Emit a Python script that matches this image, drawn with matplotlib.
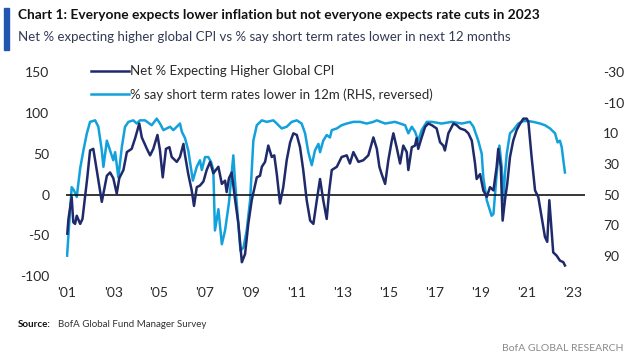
import matplotlib.pyplot as plt
from matplotlib.patches import Rectangle

plt.rcParams['axes.unicode_minus'] = False

# Net % expecting higher global CPI (LHS)
cpi_year = [2001.01, 2001.06, 2001.20, 2001.27, 2001.35, 2001.42, 2001.57, 2001.67, 2001.78, 2001.88,
            2002.00, 2002.14, 2002.29, 2002.51, 2002.73, 2002.87, 2003.01, 2003.16, 2003.27, 2003.45,
            2003.60, 2003.81, 2003.96, 2004.14, 2004.25, 2004.47, 2004.61, 2004.75, 2004.93, 2005.04,
            2005.16, 2005.30, 2005.45, 2005.55, 2005.77, 2005.91, 2006.06, 2006.13, 2006.27, 2006.42,
            2006.52, 2006.64, 2006.78, 2006.93, 2007.07, 2007.22, 2007.36, 2007.58, 2007.73, 2007.87,
            2007.94, 2008.04, 2008.16, 2008.30, 2008.45, 2008.60, 2008.74, 2008.88, 2009.03, 2009.25,
            2009.39, 2009.47, 2009.61, 2009.75, 2009.90, 2010.01, 2010.12, 2010.26, 2010.40, 2010.55,
            2010.70, 2010.84, 2010.99, 2011.13, 2011.27, 2011.42, 2011.57, 2011.71, 2011.86, 2012.00,
            2012.14, 2012.29, 2012.40, 2012.51, 2012.73, 2012.94, 2013.16, 2013.30, 2013.45, 2013.67,
            2013.88, 2014.10, 2014.32, 2014.47, 2014.58, 2014.68, 2014.83, 2014.97, 2015.12, 2015.19,
            2015.33, 2015.48, 2015.62, 2015.77, 2015.84, 2015.99, 2016.13, 2016.20, 2016.27, 2016.42,
            2016.57, 2016.71, 2016.86, 2017.07, 2017.22, 2017.36, 2017.43, 2017.58, 2017.80, 2017.94,
            2018.09, 2018.30, 2018.45, 2018.60, 2018.74, 2018.81, 2018.96, 2019.10, 2019.25, 2019.39,
            2019.54, 2019.68, 2019.75, 2019.86, 2019.94, 2020.04, 2020.14, 2020.26, 2020.40, 2020.55,
            2020.70, 2020.84, 2020.99, 2021.06, 2021.20, 2021.35, 2021.49, 2021.64, 2021.78, 2021.88,
            2021.97, 2022.07, 2022.14, 2022.29, 2022.43, 2022.58, 2022.65]
cpi_net = [-48, -30, -3, -34, -36, -26, -36, -30, -3, 21,
           54, 56, 30, -9, 23, 27, 20, 1, 20, 30,
           52, 56, 69, 87, 70, 56, 48, 56, 73, 54,
           21, 56, 58, 46, 40, 46, 62, 48, 25, 5,
           -14, 9, 11, 16, 30, 40, 26, 34, 13, 17,
           3, 20, 27, -5, -36, -83, -73, -36, -7, 21,
           23, 34, 40, 60, 46, 48, 25, -11, 9, 42,
           64, 75, 73, 58, 30, -7, -32, -36, -7, 19,
           -7, -30, 5, 30, 34, 46, 48, 38, 52, 40,
           42, 48, 70, 56, 34, 25, 13, 42, 66, 75,
           58, 38, 60, 52, 30, 58, 60, 69, 56, 70,
           83, 87, 85, 81, 64, 60, 54, 75, 87, 85,
           81, 79, 75, 66, 38, 19, 25, 5, -3, 9,
           5, 34, 56, 34, -32, -7, 13, 46, 66, 79,
           87, 93, 93, 89, 46, 5, -3, -28, -52, -58,
           -7, -44, -71, -75, -81, -83, -87]

# % saying short term rates lower in 12m (RHS, reversed)
rates_year = [2001.00, 2001.20, 2001.30, 2001.42, 2001.57, 2001.71, 2001.86, 2002.00, 2002.22, 2002.36,
              2002.51, 2002.58, 2002.73, 2002.87, 2003.01, 2003.09, 2003.23, 2003.38, 2003.52, 2003.67,
              2003.88, 2004.03, 2004.17, 2004.39, 2004.68, 2004.90, 2005.04, 2005.19, 2005.33, 2005.48,
              2005.62, 2005.77, 2005.91, 2005.99, 2006.13, 2006.27, 2006.47, 2006.64, 2006.78, 2006.86,
              2007.00, 2007.14, 2007.26, 2007.36, 2007.43, 2007.58, 2007.73, 2007.87, 2008.04, 2008.23,
              2008.30, 2008.54, 2008.67, 2008.81, 2008.96, 2009.10, 2009.25, 2009.47, 2009.68, 2009.97,
              2010.12, 2010.33, 2010.55, 2010.77, 2010.99, 2011.20, 2011.35, 2011.49, 2011.64, 2011.78,
              2011.93, 2012.00, 2012.14, 2012.29, 2012.43, 2012.51, 2012.73, 2012.94, 2013.16, 2013.45,
              2013.74, 2014.03, 2014.32, 2014.47, 2014.83, 2015.26, 2015.70, 2015.84, 2015.99, 2016.13,
              2016.27, 2016.42, 2016.64, 2016.86, 2017.29, 2017.73, 2018.16, 2018.52, 2018.67, 2018.88,
              2019.03, 2019.10, 2019.25, 2019.46, 2019.54, 2019.68, 2019.80, 2019.90, 2019.97, 2020.04,
              2020.12, 2020.26, 2020.40, 2020.62, 2020.84, 2021.06, 2021.27, 2021.57, 2021.78, 2022.00,
              2022.22, 2022.33, 2022.43, 2022.51, 2022.58, 2022.65]
rates_lower = [90.0, 45.2, 47.3, 51.6, 32.9, 21.2, 10.0, 2.5, 1.5, 5.7,
               21.2, 31.9, 14.8, 21.2, 27.6, 22.3, 38.8, 19.1, 5.7, 2.5,
               1.5, 3.6, 1.5, 1.5, 4.7, 0.4, 3.6, 7.9, 6.8, 5.7,
               7.9, 5.7, 3.6, 8.9, 13.2, 21.2, 40.9, 31.9, 27.6, 34.0,
               25.5, 25.5, 28.7, 34.0, 73.5, 59.6, 82.5, 73.5, 55.3, 24.4,
               40.9, 86.8, 84.7, 73.5, 53.7, 14.8, 4.7, 1.5, 2.5, 1.5,
               3.6, 6.8, 5.7, 2.5, 1.5, 3.6, 10.0, 22.3, 30.8, 21.2,
               16.9, 22.3, 14.8, 11.1, 12.7, 7.9, 6.8, 4.7, 3.6, 2.5,
               2.5, 3.6, 2.5, 1.5, 3.6, 2.5, 4.7, 10.0, 5.7, 8.9,
               14.8, 7.9, 2.5, 2.5, 3.6, 2.5, 3.6, 2.5, 5.7, 14.8,
               23.3, 38.8, 53.7, 63.9, 62.8, 36.7, 18.0, 31.9, 53.7, 36.7,
               23.3, 10.0, 7.9, 3.6, 2.0, 2.0, 2.5, 3.6, 4.7, 6.8,
               10.0, 15.9, 14.8, 19.1, 27.6, 35.6]

left_ticks = [-100, -50, 0, 50, 100, 150]
right_ticks = [-30, -10, 10, 30, 50, 70, 90]
x_ticks = list(range(2001, 2024, 2))
x_labels = ["'%02d" % (y % 100) for y in x_ticks]

navy = '#1f2a6a'
sky = '#12a1dc'
font = ['Lato', 'DejaVu Sans']

fig = plt.figure(figsize=(6.4, 3.59), dpi=100)
ax = fig.add_axes([0.103, 0.231, 0.811, 0.568])
ax2 = ax.twinx()

l1, = ax.plot(cpi_year, cpi_net, color=navy, lw=1.8, zorder=3)
l2, = ax2.plot(rates_year, rates_lower, color=sky, lw=1.8)
ax.set_zorder(ax2.get_zorder() + 1)
ax.patch.set_visible(False)
ax.axhline(0, color='black', lw=1.1, zorder=1)

ax.set_xlim(2000.95, 2023.52)
ax.set_ylim(-100, 150)
ax2.set_ylim(103.33, -30)

ax.set_yticks(left_ticks)
ax2.set_yticks(right_ticks)
ax.set_xticks(x_ticks)
ax.set_xticklabels(x_labels)

for a in (ax, ax2):
    for s in a.spines.values():
        s.set_visible(False)
    a.tick_params(length=0, labelsize=10, labelcolor='#2a2a2a')
    for lab in a.get_xticklabels() + a.get_yticklabels():
        lab.set_family(font)
ax.tick_params(axis='y', pad=12)
ax2.tick_params(axis='y', pad=13)
ax.tick_params(axis='x', pad=8)

leg = fig.legend([l1, l2], ['Net % Expecting Higher Global CPI',
                            '% say short term rates lower in 12m (RHS, reversed)'],
                 loc='upper left', bbox_to_anchor=(0.142, 0.818), frameon=False,
                 borderpad=0, borderaxespad=0,
                 handlelength=2.9, handletextpad=0.1, labelspacing=0.85,
                 prop={'family': font, 'size': 9.5})
for t in leg.get_texts():
    t.set_color('#2a2a2a')

fig.patches.append(Rectangle((0.006, 0.861), 0.008, 0.117, transform=fig.transFigure,
                             color='#2356b0', zorder=5))
fig.text(0.028, 0.958, 'Chart 1: Everyone expects lower inflation but not everyone expects rate cuts in 2023',
         family=font, weight='bold', size=9.9, color='#111111', va='center')
fig.text(0.028, 0.897, 'Net % expecting higher global CPI vs % say short term rates lower in next 12 months',
         family=font, size=9.5, color='#333a55', va='center')
fig.text(0.028, 0.095, 'Source:', family=font, weight='bold', size=7, color='#111111', va='center')
fig.text(0.09, 0.095, 'BofA Global Fund Manager Survey', family=font, size=7, color='#333333',
         va='center')
fig.text(0.975, 0.028, 'BofA GLOBAL RESEARCH', family=font, size=7.5, color='#8a8a8a',
         ha='right', va='center')

fig.savefig('out.png', dpi=100)
